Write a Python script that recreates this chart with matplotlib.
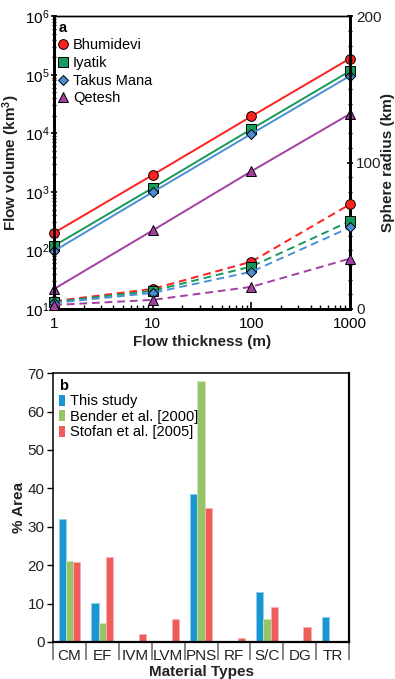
import numpy as np
import matplotlib.pyplot as plt
from matplotlib.lines import Line2D
from matplotlib.patches import Patch
import matplotlib.ticker as mticker

plt.rcParams['font.family'] = ['Liberation Sans', 'DejaVu Sans']
plt.rcParams['mathtext.default'] = 'regular'

# ---- panel a data ----
thickness = [1, 10, 100, 1000]
names = ["Bhumidevi", "Iyatik", "Takus Mana", "Qetesh"]
vol_bhumidevi = [200, 1950, 19500, 190000]
vol_iyatik = [120, 1170, 11800, 116000]
vol_takus = [98, 990, 9800, 96000]
vol_qetesh = [22, 220, 2250, 21500]
rad_bhumidevi = [5.3, 13.7, 32.3, 71.5]
rad_iyatik = [4.8, 12.4, 29.0, 60.0]
rad_takus = [4.1, 11.0, 25.4, 55.7]
rad_qetesh = [2.7, 6.2, 15.1, 34.4]

# ---- panel b data ----
materials = ["CM", "EF", "IVM", "LVM", "PNS", "RF", "S/C", "DG", "TR"]
this_study = [32, 10.2, 0, 0, 38.5, 0, 13, 0, 6.4]
bender2000 = [21, 5, 0, 0, 68, 0, 6, 0, 0]
stofan2005 = [20.8, 22, 2, 6, 35, 1, 9.2, 4, 0]

fig = plt.figure(figsize=(3.95, 6.79), dpi=100)

# ================= panel a =================
ax = fig.add_axes([0.137, 0.545, 0.749, 0.431])
ax2 = ax.twinx()

cols = ['#ff1f1f', '#16995a', '#4a8fd6', '#a33ea3']
marks = ['o', 's', 'D', '^']
msz = [7, 7, 5.5, 7]
vols = [vol_bhumidevi, vol_iyatik, vol_takus, vol_qetesh]
rads = [rad_bhumidevi, rad_iyatik, rad_takus, rad_qetesh]

for v, c, m, s in zip(vols, cols, marks, msz):
    ax.plot(thickness, v, color=c, lw=1.4, marker=m, ms=s, mfc=c,
            mec='k', mew=0.7, clip_on=False, zorder=3)
for r, c, m, s in zip(rads, cols, marks, msz):
    ax2.plot(thickness, r, color=c, lw=1.4, ls=(0, (4, 2.5)), marker=m, ms=s,
             mfc=c, mec='k', mew=0.7, clip_on=False, zorder=3)

ax.set_xscale('log')
ax.set_yscale('log')
ax.set_xlim(1, 1000)
ax.set_ylim(10, 1e6)
ax2.set_ylim(0, 200)
ax2.yaxis.set_major_locator(mticker.MultipleLocator(100))
ax2.yaxis.set_minor_locator(mticker.MultipleLocator(10))
ax.xaxis.set_major_formatter(mticker.FuncFormatter(lambda x, p: f"{x:g}"))
ax.yaxis.set_minor_locator(mticker.LogLocator(subs=np.arange(2, 10), numticks=20))
ax.yaxis.set_minor_formatter(mticker.NullFormatter())

for a in (ax, ax2):
    for sp in ['left', 'right', 'bottom']:
        a.spines[sp].set_linewidth(2)
    a.spines['top'].set_linewidth(1)
ax.tick_params(which='major', direction='inout', length=5, width=1.2,
               labelsize=11, pad=1)
ax.tick_params(which='minor', direction='inout', length=3, width=1)
ax.tick_params(axis='x', which='both', direction='in', pad=6)
ax2.tick_params(which='major', direction='inout', length=5, width=1.2,
                labelsize=11, pad=2, colors='k', labelcolor='#222')
ax2.tick_params(which='minor', direction='inout', length=3, width=1)

ax.set_xlabel("Flow thickness (m)", fontsize=11, fontweight='bold',
              color='#222', labelpad=3)
ax.set_ylabel("Flow volume (km$^3$)", fontsize=11, fontweight='bold',
              color='#222')
ax.yaxis.set_label_coords(-0.108, 0.5)
ax2.set_ylabel("Sphere radius (km)", fontsize=11, fontweight='bold',
               color='#222')
ax2.yaxis.set_label_coords(1.105, 0.5)

handles = [Line2D([], [], ls='none', marker=m, ms=s, mfc=c, mec='k', mew=0.7)
           for c, m, s in zip(cols, marks, msz)]
leg = ax.legend(handles, names, loc='upper left', frameon=False,
                fontsize=10.5, handlelength=0.6, handletextpad=0.4,
                labelspacing=0.25, borderaxespad=0.1, borderpad=0.2,
                title="a", title_fontproperties={'weight': 'bold', 'size': 10.5},
                alignment='left')
leg.set_zorder(5)

# ================= panel b =================
bx = fig.add_axes([0.134, 0.0545, 0.750, 0.396])
x = np.arange(len(materials))
w = 0.22
bcols = ['#1a96d0', '#98c468', '#ee5d5a']
ecols = ['#8fd0ef', '#cfe6b5', '#f7b1ae']
series = [this_study, bender2000, stofan2005]
labels_b = ["This study", "Bender et al. [2000]", "Stofan et al. [2005]"]
for i, (vals, c, e) in enumerate(zip(series, bcols, ecols)):
    bx.bar(x + (i - 1) * w, vals, width=w, color=c, edgecolor=e, lw=0.6,
           zorder=2)

bx.set_xlim(-0.5, len(materials) - 0.5)
bx.set_ylim(0, 70)
bx.yaxis.set_major_locator(mticker.MultipleLocator(10))
bx.set_xticks(x)
bx.set_xticklabels(materials)
bx.set_xticks(np.arange(len(materials) + 1) - 0.5, minor=True)
bx.tick_params(axis='x', which='major', length=0, labelsize=11, pad=5,
               labelcolor='#222')
bx.tick_params(axis='x', which='minor', length=13, width=1.1, color='#666')
bx.tick_params(axis='y', which='major', length=4, width=1, labelsize=11,
               pad=2, labelcolor='#222')
for sp in bx.spines.values():
    sp.set_linewidth(1.1)
bx.spines['right'].set_linewidth(1.6)
bx.spines['bottom'].set_linewidth(1.6)

bx.set_xlabel("Material Types", fontsize=11, fontweight='bold',
              color='#222', labelpad=0)
bx.set_ylabel("% Area", fontsize=11, fontweight='bold', color='#222')
bx.yaxis.set_label_coords(-0.091, 0.5)

phandles = [Patch(facecolor=c, edgecolor='none') for c in bcols]
bleg = bx.legend(phandles, labels_b, loc='upper left', frameon=False,
                 fontsize=10.5, handlelength=0.45, handleheight=0.8,
                 handletextpad=0.3, labelspacing=0.1, borderaxespad=0.2,
                 borderpad=0.2, title="b",
                 title_fontproperties={'weight': 'bold', 'size': 10.5},
                 alignment='left')

fig.savefig("out.png", dpi=100)
